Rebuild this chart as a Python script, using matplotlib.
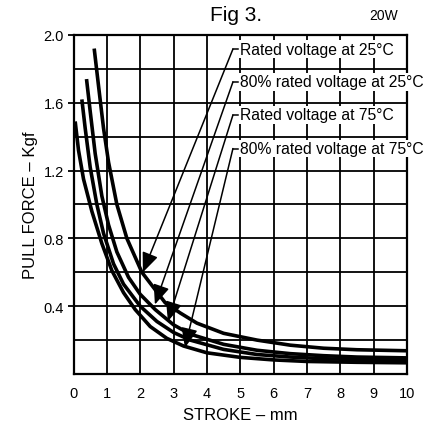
import numpy as np
import matplotlib
matplotlib.use("Agg")
import matplotlib.pyplot as plt

plt.rcParams.update({
    "font.family": ["Liberation Sans", "DejaVu Sans"],
    "axes.linewidth": 1.6,
})

# stroke (mm) / pull force (Kgf)
rated_25_x = [0.62, 0.75, 0.90, 1.05, 1.30, 1.60, 2.05, 2.75, 3.20, 3.70, 4.50, 5.50, 6.50, 7.50, 8.50, 10.0]
rated_25_y = [1.92, 1.70, 1.45, 1.25, 1.00, 0.80, 0.60, 0.42, 0.36, 0.30, 0.24, 0.20, 0.170, 0.152, 0.143, 0.137]

low_25_x = [0.39, 0.50, 0.65, 0.85, 1.05, 1.30, 1.65, 2.00, 2.45, 3.00, 3.50, 4.50, 5.50, 6.50, 7.50, 8.50, 10.0]
low_25_y = [1.74, 1.55, 1.30, 1.05, 0.88, 0.72, 0.57, 0.47, 0.38, 0.29, 0.235, 0.175, 0.14, 0.12, 0.108, 0.100, 0.095]

rated_75_x = [0.25, 0.35, 0.50, 0.70, 0.90, 1.20, 1.50, 2.00, 2.50, 3.00, 3.50, 4.50, 5.50, 6.50, 7.50, 8.50, 10.0]
rated_75_y = [1.62, 1.45, 1.22, 1.00, 0.83, 0.65, 0.53, 0.40, 0.31, 0.245, 0.20, 0.145, 0.115, 0.10, 0.090, 0.085, 0.080]

low_75_x = [0.05, 0.15, 0.30, 0.55, 0.85, 1.15, 1.50, 1.85, 2.30, 2.80, 3.30, 4.00, 5.00, 6.00, 7.00, 8.50, 10.0]
low_75_y = [1.49, 1.32, 1.15, 0.96, 0.77, 0.61, 0.48, 0.38, 0.28, 0.21, 0.165, 0.125, 0.098, 0.083, 0.074, 0.069, 0.066]

labels = ["Rated voltage at 25°C", "80% rated voltage at 25°C",
          "Rated voltage at 75°C", "80% rated voltage at 75°C"]
label_y = [1.917, 1.723, 1.528, 1.33]
arrow_tip_x = [2.08, 2.44, 2.83, 3.34]
arrow_tip_y = [0.60, 0.41, 0.31, 0.155]

x_ticks = list(range(0, 11))
y_labels = [0.4, 0.8, 1.2, 1.6, 2.0]

fig = plt.figure(figsize=(4.36, 4.27), dpi=100)
ax = fig.add_axes([0.1686, 0.1218, 0.765, 0.7939])

ax.set_xlim(0, 10)
ax.set_ylim(0, 2.0)

# grid
ax.set_xticks(x_ticks)
ax.set_yticks(y_labels)
ax.set_yticklabels([f"{v:.1f}" for v in y_labels])
ax.set_yticks(np.arange(0.2, 2.0, 0.2), minor=True)
ax.grid(True, which="both", color="black", lw=1.3)
ax.tick_params(axis="x", length=0, pad=9, labelsize=10.5)
ax.tick_params(axis="y", which="major", length=4, width=1.3, pad=3, labelsize=10.5)
ax.tick_params(axis="y", which="minor", length=0)
ax.set_axisbelow(True)

for xs, ys in [(rated_25_x, rated_25_y), (low_25_x, low_25_y),
               (rated_75_x, rated_75_y), (low_75_x, low_75_y)]:
    ax.plot(xs, ys, color="black", lw=2.6, solid_capstyle="butt", zorder=3)

hook_x0, hook_x1, text_x = 4.78, 4.93, 5.0
for lab, ly, tx, ty in zip(labels, label_y, arrow_tip_x, arrow_tip_y):
    ax.annotate("", xy=(tx, ty), xytext=(hook_x0, ly),
                arrowprops=dict(arrowstyle="-|>,head_length=1.2,head_width=0.5",
                                color="black", lw=1.1, shrinkA=0, shrinkB=0),
                zorder=4)
    ax.plot([hook_x0, hook_x1], [ly, ly], color="black", lw=1.1, zorder=4)
    ax.text(text_x, ly, lab, fontsize=11.3, va="center", ha="left", zorder=5,
            clip_on=False,
            bbox=dict(facecolor="white", edgecolor="none", pad=1.0))

ax.set_xlabel("STROKE – mm", fontsize=12, labelpad=5)
ax.set_ylabel("PULL FORCE – Kgf", fontsize=12, labelpad=4)

fig.text(0.542, 0.963, "Fig 3.", fontsize=15, ha="center", va="center")
fig.text(0.879, 0.963, "20W", fontsize=10, ha="center", va="center")

fig.savefig("out.png", dpi=100)
